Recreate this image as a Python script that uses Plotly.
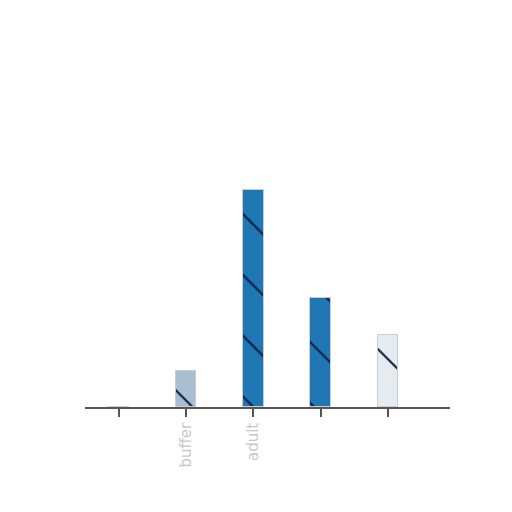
import plotly.graph_objects as go

# categories + values
positions = [0, 1, 2, 3, 4]
tick_labels = ["", "buffer", "adult", "", ""]
values = [0, 1, 6, 3, 2]
bar_colors = ["#1f77b4", "#a9bfd1", "#1f77b4", "#1f77b4", "#e6ebef"]

fig = go.Figure()
fig.add_trace(go.Bar(
    x=positions,
    y=values,
    width=0.31,
    marker=dict(
        color="#1f77b4",
        line=dict(color="#c9cdd1", width=1),
        # per-bar fill goes through the pattern background so the hatch keeps its colour
        pattern=dict(shape="\\", size=43, solidity=0.05,
                     bgcolor=bar_colors, fgcolor="#0b1f3f",
                     fgopacity=1, fillmode="overlay"),
    ),
    showlegend=False,
))

fig.update_xaxes(
    range=[-0.5, 4.92],
    tickvals=positions,
    ticktext=tick_labels,
    tickangle=-90,
    ticks="outside",
    ticklen=8,
    tickcolor="#555555",
    tickwidth=1.5,
    showline=True,
    linecolor="#555555",
    linewidth=1.5,
    showgrid=False,
    zeroline=False,
    tickfont=dict(family="DejaVu Sans", size=15, color="#c8c8c8"),
)
fig.update_yaxes(range=[0, 8], visible=False, showgrid=False)

# page body adds 8px offset, so margins are shifted
fig.update_layout(
    width=512,
    height=512,
    margin=dict(l=77, r=70, t=109, b=113),
    plot_bgcolor="white",
    paper_bgcolor="white",
    bargap=0,
)

fig.write_html("out.html")
